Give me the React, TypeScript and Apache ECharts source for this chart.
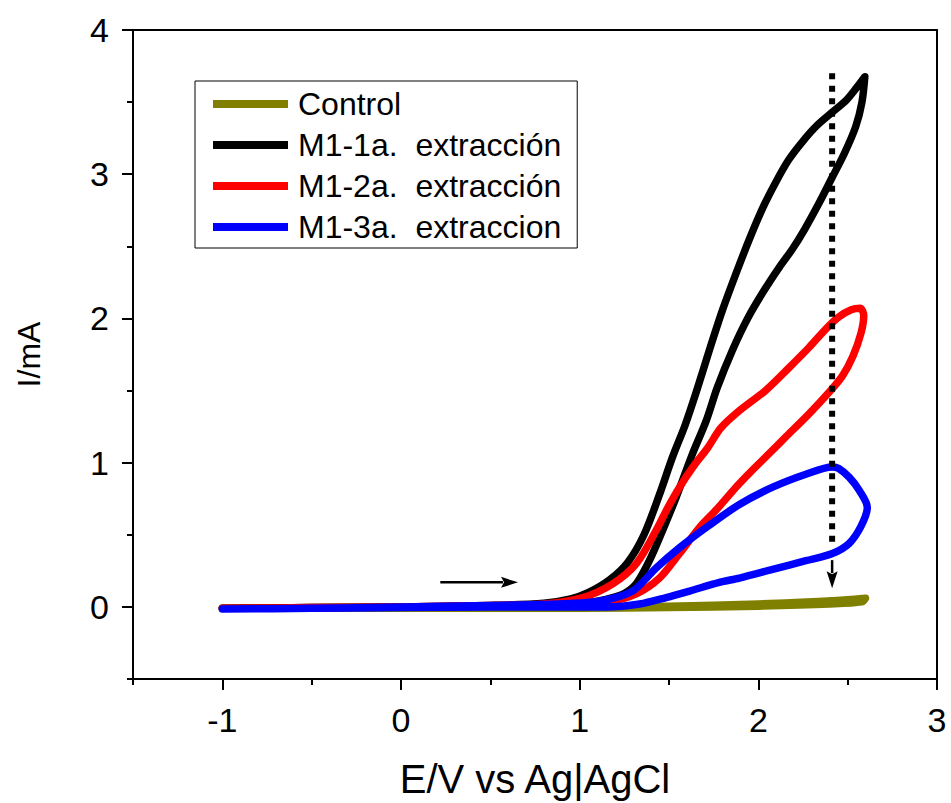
import React, { useEffect, useRef } from "react";
import * as echarts from "echarts";

// Cyclic voltammograms, potential E (V vs Ag|AgCl) vs current I (mA)
const SERIES_NAMES = [
  "Control",
  "M1-1a.  extracción",
  "M1-2a.  extracción",
  "M1-3a.  extraccion",
];
const SERIES_COLORS = ["#808000", "#000000", "#ff0000", "#0000ff"];

const control: [number, number][] = [
  [-1, -0.01], [-0.5, -0.005], [0, 0], [0.5, 0], [1.0, 0], [1.5, 0.005],
  [2.0, 0.02], [2.3, 0.035], [2.5, 0.05], [2.6, 0.06], [2.58, 0.035],
  [2.4, 0.02], [2.0, 0.005], [1.5, -0.005], [1.0, -0.01], [0, -0.01],
  [-1, -0.01],
];

const m1First: [number, number][] = [
  [-1, -0.01], [-0.5, -0.005], [0, 0], [0.5, 0.005], [0.8, 0.012],
  [1.0, 0.025], [1.1, 0.04], [1.2, 0.07], [1.26, 0.1], [1.317, 0.16],
  [1.39, 0.32], [1.464, 0.53], [1.54, 0.76], [1.631, 1.06], [1.708, 1.29],
  [1.77, 1.52], [1.855, 1.78], [1.94, 2.0], [2.03, 2.19], [2.12, 2.36],
  [2.19, 2.48], [2.26, 2.62], [2.34, 2.8], [2.41, 2.97], [2.48, 3.14],
  [2.545, 3.33], [2.58, 3.5], [2.596, 3.676], [2.55, 3.6], [2.49, 3.51],
  [2.414, 3.43], [2.33, 3.34], [2.25, 3.23], [2.17, 3.1], [2.1, 2.95],
  [2.03, 2.78], [1.96, 2.58], [1.89, 2.36], [1.8, 2.06], [1.726, 1.78],
  [1.65, 1.48], [1.59, 1.26], [1.52, 1.04], [1.447, 0.78], [1.36, 0.5],
  [1.27, 0.31], [1.17, 0.19], [1.05, 0.1], [0.95, 0.055], [0.8, 0.025],
  [0.5, 0.01], [0, 0], [-0.5, -0.005], [-1, -0.01],
];

const m1Second: [number, number][] = [
  [-1, -0.01], [-0.5, -0.005], [0, 0], [0.5, 0.005], [1.0, 0.01],
  [1.15, 0.03], [1.317, 0.09], [1.447, 0.2], [1.559, 0.37], [1.67, 0.55],
  [1.77, 0.68], [1.875, 0.83], [1.96, 0.94], [2.05, 1.05], [2.155, 1.18],
  [2.285, 1.34], [2.397, 1.49], [2.47, 1.6], [2.53, 1.74], [2.575, 1.9],
  [2.59, 2.02], [2.57, 2.07], [2.52, 2.06], [2.45, 2.01], [2.38, 1.93],
  [2.285, 1.8], [2.173, 1.66], [2.04, 1.5], [1.894, 1.36], [1.79, 1.24],
  [1.715, 1.1], [1.64, 0.98], [1.559, 0.83], [1.49, 0.68], [1.428, 0.53],
  [1.317, 0.3], [1.185, 0.16], [1.017, 0.065], [0.8, 0.02], [0.5, 0.01],
  [0, 0], [-0.5, -0.005], [-1, -0.01],
];

const m1Third: [number, number][] = [
  [-1, -0.015], [-0.5, -0.01], [0, -0.005], [0.5, 0], [1.0, 0], [1.15, 0],
  [1.335, 0.02], [1.484, 0.065], [1.615, 0.11], [1.782, 0.17], [1.894, 0.2],
  [2.08, 0.26], [2.266, 0.32], [2.414, 0.37], [2.508, 0.44], [2.575, 0.56],
  [2.61, 0.69], [2.564, 0.81], [2.508, 0.9], [2.45, 0.96], [2.414, 0.97],
  [2.266, 0.92], [2.08, 0.83], [1.894, 0.71], [1.708, 0.55], [1.559, 0.41],
  [1.428, 0.27], [1.296, 0.11], [1.11, 0.04], [0.87, 0.02], [0.5, 0.01],
  [0, 0], [-0.5, -0.01], [-1, -0.015],
];

const SERIES_DATA = [control, m1First, m1Second, m1Third];

// Axis ticks and labels
const E_MAJOR = [-1, 0, 1, 2, 3];
const E_MINOR = [-1.5, -0.5, 0.5, 1.5, 2.5];
const I_MAJOR = [0, 1, 2, 3, 4];
const I_MINOR = [-0.5, 0.5, 1.5, 2.5, 3.5];

// Annotations: scan direction arrow and the decreasing-peak arrow
const scanArrow: [number, number][] = [[0.22, 0.17], [0.655, 0.17]];
const trendArrow: [number, number][] = [[2.413, 3.7], [2.413, 0.13]];

const FONT = "'Liberation Sans', Arial, Helvetica, sans-serif";

export default function App() {
  const ref = useRef<HTMLDivElement>(null);

  useEffect(() => {
    if (!ref.current) return;
    const chart = echarts.init(ref.current, undefined, { renderer: "svg" });

    const axisLine = { show: true, onZero: false, lineStyle: { color: "#000", width: 2 } };
    const noLine = { show: false, onZero: false };
    const baseX = { type: "value" as const, min: -1.5, max: 3, splitLine: { show: false } };
    const baseY = { type: "value" as const, min: -0.5, max: 4, splitLine: { show: false } };

    chart.setOption({
      animation: false,
      backgroundColor: "#fff",
      grid: {
        left: 133,
        right: 14,
        top: 30,
        bottom: 124,
        containLabel: false,
        outerBoundsMode: "none",
      },
      legend: {
        orient: "vertical",
        left: 195,
        top: 81,
        icon: "rect",
        itemWidth: 75,
        itemHeight: 8,
        itemGap: 9,
        padding: [7, 16, 5, 18],
        borderColor: "#000",
        borderWidth: 1,
        data: SERIES_NAMES,
        textStyle: { fontFamily: FONT, fontSize: 32, lineHeight: 32, color: "#000", padding: [0, 0, 0, 5] },
      },
      xAxis: [
        {
          ...baseX,
          position: "bottom",
          axisLine,
          axisTick: { show: true, customValues: E_MAJOR, length: 11, lineStyle: { color: "#000", width: 2 } },
          axisLabel: { customValues: E_MAJOR, fontFamily: FONT, fontSize: 34, color: "#000", margin: 24 },
          name: "E/V vs Ag|AgCl",
          nameLocation: "middle",
          nameGap: 80,
          nameTextStyle: { fontFamily: FONT, fontSize: 40, color: "#000" },
        },
        {
          ...baseX,
          position: "bottom",
          axisLine: noLine,
          axisTick: { show: true, customValues: E_MINOR, length: 6, lineStyle: { color: "#000", width: 2 } },
          axisLabel: { show: false },
        },
        {
          ...baseX,
          position: "top",
          axisLine,
          axisTick: { show: false },
          axisLabel: { show: false },
        },
      ],
      yAxis: [
        {
          ...baseY,
          position: "left",
          axisLine,
          axisTick: { show: true, customValues: I_MAJOR, length: 11, lineStyle: { color: "#000", width: 2 } },
          axisLabel: { customValues: I_MAJOR, fontFamily: FONT, fontSize: 34, color: "#000", margin: 24 },
          name: "I/mA",
          nameLocation: "middle",
          nameGap: 88,
          nameRotate: 90,
          nameTextStyle: { fontFamily: FONT, fontSize: 32, color: "#000" },
        },
        {
          ...baseY,
          position: "left",
          axisLine: noLine,
          axisTick: { show: true, customValues: I_MINOR, length: 6, lineStyle: { color: "#000", width: 2 } },
          axisLabel: { show: false },
        },
        {
          ...baseY,
          position: "right",
          axisLine,
          axisTick: { show: false },
          axisLabel: { show: false },
        },
      ],
      series: SERIES_NAMES.map((name, i) => ({
        name,
        type: "line",
        xAxisIndex: 0,
        yAxisIndex: 0,
        data: SERIES_DATA[i],
        showSymbol: false,
        smooth: 0.3,
        color: SERIES_COLORS[i],
        lineStyle: { color: SERIES_COLORS[i], width: 7.5, cap: "round", join: "round" },
        z: 2 + i,
      })),
    });

    // Arrow annotations placed through the chart's own coordinate conversion
    const px = (p: [number, number]) =>
      chart.convertToPixel({ xAxisIndex: 0, yAxisIndex: 0 }, p) as number[];

    const s0 = px(scanArrow[0]);
    const s1 = px(scanArrow[1]);
    const t0 = px(trendArrow[0]);
    const t1 = px(trendArrow[1]);
    const headLen = 17;
    const headHalf = 5.5;

    chart.setOption({
      graphic: [
        {
          type: "line",
          z: 10,
          shape: { x1: s0[0], y1: s0[1], x2: s1[0] - headLen + 2, y2: s1[1] },
          style: { stroke: "#000", lineWidth: 2.5 },
        },
        {
          type: "polygon",
          z: 10,
          shape: {
            points: [
              [s1[0], s1[1]],
              [s1[0] - headLen, s1[1] - headHalf],
              [s1[0] - headLen + 3, s1[1]],
              [s1[0] - headLen, s1[1] + headHalf],
            ],
          },
          style: { fill: "#000" },
        },
        {
          type: "line",
          z: 10,
          shape: { x1: t0[0], y1: t0[1], x2: t0[0], y2: t1[1] - 44 },
          style: { stroke: "#000", lineWidth: 6, lineDash: [6, 6.5] },
        },
        {
          type: "line",
          z: 10,
          shape: { x1: t1[0], y1: t1[1] - 28, x2: t1[0], y2: t1[1] - headLen + 2 },
          style: { stroke: "#000", lineWidth: 2.5 },
        },
        {
          type: "polygon",
          z: 10,
          shape: {
            points: [
              [t1[0], t1[1]],
              [t1[0] - headHalf, t1[1] - headLen],
              [t1[0], t1[1] - headLen + 3],
              [t1[0] + headHalf, t1[1] - headLen],
            ],
          },
          style: { fill: "#000" },
        },
      ],
    });

    return () => chart.dispose();
  }, []);

  return (
    <div
      ref={ref}
      style={{ position: "absolute", left: 0, top: 0, width: 951, height: 803 }}
    />
  );
}
